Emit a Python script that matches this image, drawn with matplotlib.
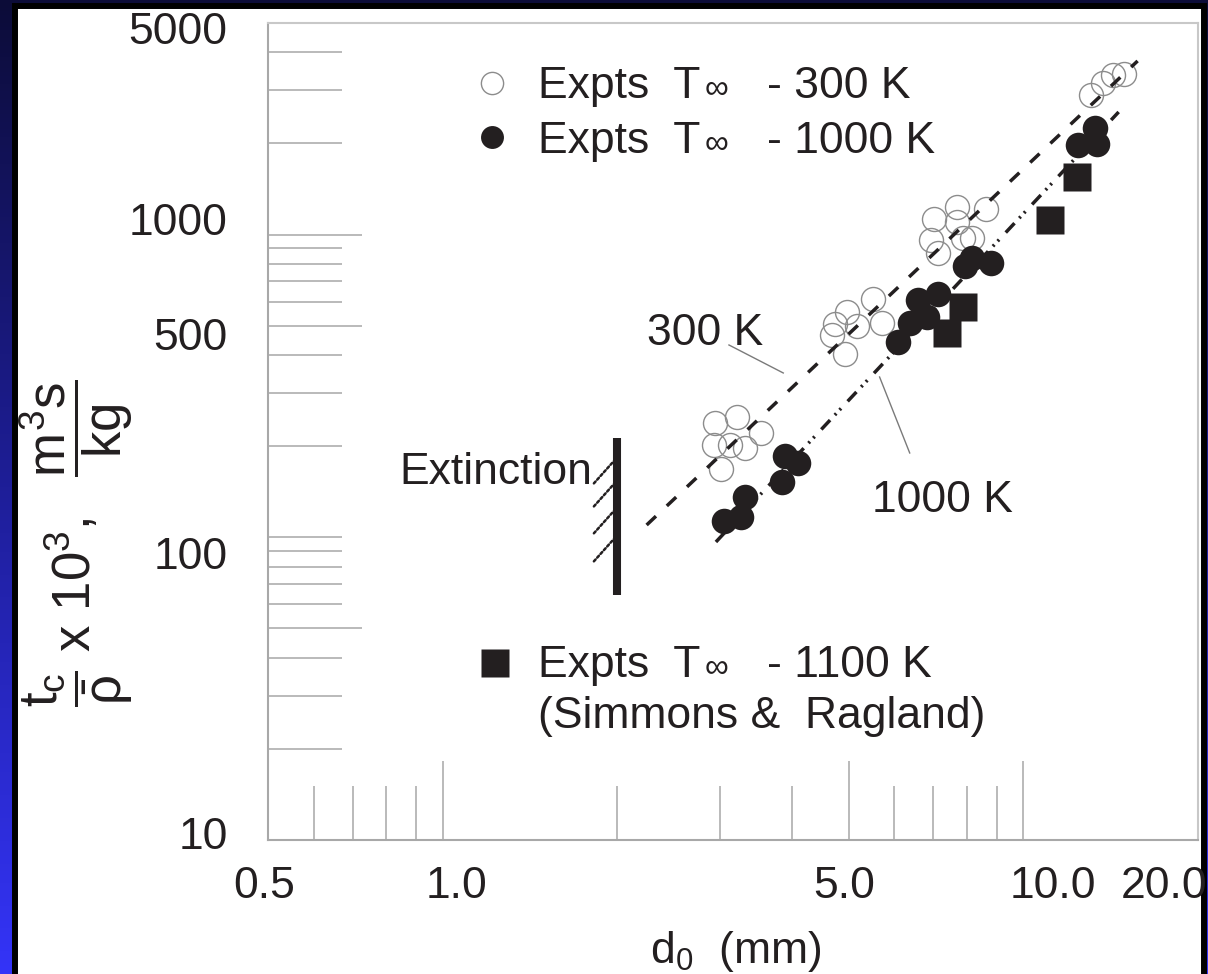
import numpy as np
import matplotlib
matplotlib.use("Agg")
import matplotlib.pyplot as plt
from matplotlib.patches import Rectangle
from matplotlib.colors import LinearSegmentedColormap
from matplotlib.ticker import NullFormatter
from matplotlib.transforms import ScaledTranslation

plt.rcParams["font.family"] = ["Liberation Sans", "DejaVu Sans"]
plt.rcParams["mathtext.fontset"] = "custom"
plt.rcParams["mathtext.rm"] = "Liberation Sans"
plt.rcParams["mathtext.it"] = "Liberation Sans"
plt.rcParams["mathtext.bf"] = "Liberation Sans:bold"

INK = "#231f20"
TICK_GRAY = "#b4b4b4"

# experiments, T_inf = 300 K (open circles)
d_300 = [2.94, 3.21, 3.54, 2.93, 3.13, 3.32, 3.02, 4.73, 4.69, 4.98, 5.18, 5.50, 5.70,
         4.94, 7.02, 7.69, 7.69, 6.93, 7.13, 7.87, 8.16, 8.63, 13.1, 13.7, 14.3, 14.9]
t_300 = [239, 250, 221, 202, 202, 197, 168, 507, 466, 555, 499, 613, 511,
         403, 1126, 1234, 1100, 960, 870, 975, 975, 1215, 2890, 3170, 3370, 3390]

# experiments, T_inf = 1000 K (filled circles)
d_1000 = [3.05, 3.27, 3.32, 3.84, 3.88, 4.10, 6.08, 6.37, 6.82, 6.58, 7.13, 7.94,
          8.16, 8.80, 12.45, 13.3, 13.4]
t_1000 = [113, 117, 136, 152, 186, 176, 442, 511, 534, 608, 637, 788,
          837, 806, 1977, 2250, 1992]

# Simmons & Ragland, T_inf = 1100 K (squares)
d_1100 = [7.39, 7.87, 11.1, 12.4]
t_1100 = [473, 577, 1117, 1550]

# model lines (end points)
fit_300_d = [2.245, 15.74]
fit_300_t = [109.8, 3746]
fit_1000_d = [2.955, 14.60]
fit_1000_t = [96.5, 2541]

# extinction limit
ext_d = 2.0
ext_t = [64.5, 212.8]
hatch_t = [184.2, 154.6, 126.0, 101.8]

# leader lines for the line labels
leader_300 = ([3.112, 3.86], [431.8, 349])
leader_1000 = ([5.656, 6.374], [338.5, 189.9])

x_ticks = [0.5, 1, 5, 10, 20]
x_labels = ["0.5", "1.0", "5.0", "10.0", "20.0"]
x_minor = [0.6, 0.7, 0.8, 0.9, 2, 3, 4, 6, 7, 8, 9]
y_ticks = [10, 50, 100, 500, 1000, 5000]
y_labels = ["10", "", "100", "500", "1000", "5000"]
y_minor = [20, 30, 40, 60, 70, 80, 90, 200, 300, 400, 600, 700, 800, 900,
           2000, 3000, 4000]

# the slide's labels sit a little off their ticks (pixel nudges)
x_label_nudge = [-4, 14, -4, 30, -34]
y_label_nudge = [7, 0, -16, -8, 16, -5]

W, H = 1208, 974
fig = plt.figure(figsize=(W / 100, H / 100), dpi=100)

# blue slide background with white panel
bg = fig.add_axes([0, 0, 1, 1], zorder=-2)
bg.axis("off")
cmap = LinearSegmentedColormap.from_list("slide", ["#0c0c38", "#1e1e98", "#3434f8"])
bg.imshow(np.linspace(0, 1, 256).reshape(-1, 1), aspect="auto", cmap=cmap,
          extent=[0, 1, 0, 1], origin="upper")
fig.add_artist(Rectangle((15 / W, -0.01), (1204 - 15) / W, 1 - 6 / H + 0.01,
                         transform=fig.transFigure, facecolor="white",
                         edgecolor="black", lw=4.3, zorder=-1))

AX_L, AX_R, AX_T, AX_B = 268, 1198, 23, 840
ax = fig.add_axes([AX_L / W, 1 - AX_B / H, (AX_R - AX_L) / W, (AX_B - AX_T) / H],
                  zorder=1)
ax.set_facecolor("white")


def frac(px, py):
    """pixel position -> axes fraction (layout only)"""
    return (px - AX_L) / (AX_R - AX_L), (AX_B - py) / (AX_B - AX_T)


ax.set_xscale("log")
ax.set_yscale("log")
ax.set_xlim(0.5, 20)
ax.set_ylim(10, 5000)

# data
ax.plot(d_300, t_300, "o", ms=17.3, mfc="none", mec="#8c8c8c", mew=1.0, zorder=3)
ax.plot(fit_300_d, fit_300_t, color=INK, lw=2.5, ls=(0, (3.7, 4.3)), zorder=4)
ax.plot(fit_1000_d, fit_1000_t, color=INK, lw=2.5,
        ls=(0, (3.7, 2.0, 0.6, 1.4, 0.6, 2.8)), zorder=4)
ax.plot(d_1000, t_1000, "o", ms=18.4, color=INK, mec="none", zorder=5)
ax.plot(d_1100, t_1100, "s", ms=19.8, color=INK, mec="none", zorder=5)

# extinction bar with hatching
ax.plot([ext_d, ext_d], ext_t, color=INK, lw=5.8, solid_capstyle="butt", zorder=4)
for t in hatch_t:
    ax.annotate("", xy=(ext_d, t), xytext=(-17, -19), textcoords="offset points",
                arrowprops=dict(arrowstyle="-", color=INK, lw=1.8, ls=(0, (1, 1)),
                                shrinkA=0, shrinkB=0))
ax.text(0.842, 150.0, "Extinction", fontsize=32, color=INK, ha="left", va="baseline")

# line labels
ax.plot(*leader_300, color="#7a7a7a", lw=1.0, zorder=2)
ax.plot(*leader_1000, color="#7a7a7a", lw=1.0, zorder=2)
ax.text(2.245, 431.8, "300 K", fontsize=32, color=INK, ha="left", va="baseline")
ax.text(5.481, 121.2, "1000 K", fontsize=32, color=INK, ha="left", va="baseline")

# legend (hand placed, as in the original slide)
ax.plot(*frac(492, 83), "o", ms=16, mfc="none", mec="#8c8c8c", mew=1.0,
        transform=ax.transAxes, clip_on=False)
ax.plot(*frac(492, 137), "o", ms=16.5, color=INK, mec="none",
        transform=ax.transAxes, clip_on=False)
ax.plot(*frac(495, 663), "s", ms=19.5, color=INK, mec="none",
        transform=ax.transAxes, clip_on=False)
legend_rows = [(98, "- 300 K"), (153, "- 1000 K"), (677, "- 1100 K")]
for py, temp in legend_rows:
    ax.text(*frac(538, py), "Expts  T", transform=ax.transAxes, fontsize=32,
            color=INK, ha="left", va="baseline")
    ax.text(*frac(705, py), "\u221e", transform=ax.transAxes, fontsize=24,
            color=INK, ha="left", va="baseline")
    ax.text(*frac(767, py), temp, transform=ax.transAxes, fontsize=32,
            color=INK, ha="left", va="baseline")
ax.text(*frac(538, 728), "(Simmons &  Ragland)", transform=ax.transAxes,
        fontsize=32, color=INK, ha="left", va="baseline")

# axes styling
ax.set_xticks(x_ticks, labels=x_labels)
ax.set_xticks(x_minor, minor=True)
ax.set_yticks(y_ticks, labels=y_labels)
ax.set_yticks(y_minor, minor=True)
ax.xaxis.set_minor_formatter(NullFormatter())
ax.yaxis.set_minor_formatter(NullFormatter())
ax.tick_params(which="both", direction="in", color=TICK_GRAY, width=1.3,
               labelsize=32, labelcolor=INK)
ax.tick_params(axis="x", which="major", length=57, pad=19)
ax.tick_params(axis="x", which="minor", length=39)
ax.tick_params(axis="y", which="major", length=68, pad=29)
ax.tick_params(axis="y", which="minor", length=53)

for tk, v in zip(ax.xaxis.get_major_ticks(), x_ticks):
    if v in (0.5, 20):
        tk.tick1line.set_markersize(0)
for tk, v in zip(ax.yaxis.get_major_ticks(), y_ticks):
    if v == 100:
        tk.tick1line.set_markersize(53)

for lab, dx in zip(ax.get_xticklabels(), x_label_nudge):
    lab.set_transform(lab.get_transform() + ScaledTranslation(dx / 100, 0, fig.dpi_scale_trans))
for lab, dy in zip(ax.get_yticklabels(), y_label_nudge):
    lab.set_transform(lab.get_transform() + ScaledTranslation(0, dy / 100, fig.dpi_scale_trans))

for side in ("left", "bottom"):
    ax.spines[side].set_color("#a8a8a8")
    ax.spines[side].set_linewidth(1.5)
for side in ("top", "right"):
    ax.spines[side].set_color("#c8c8c8")
    ax.spines[side].set_linewidth(1.5)

ax.set_xlabel(r"d$_\mathregular{0}$  (mm)", fontsize=32, color=INK, va="baseline")
ax.xaxis.set_label_coords(*frac(736, 963))
ax.set_ylabel(r"$\dfrac{t_c}{\bar{\rho}}\ \mathregular{x\ 10^3,}\ \ \dfrac{m^3s}{kg}$",
              fontsize=38, color=INK, va="center", ha="center")
ax.yaxis.set_label_coords(*frac(76, 543))

fig.savefig("out.png", dpi=100)
